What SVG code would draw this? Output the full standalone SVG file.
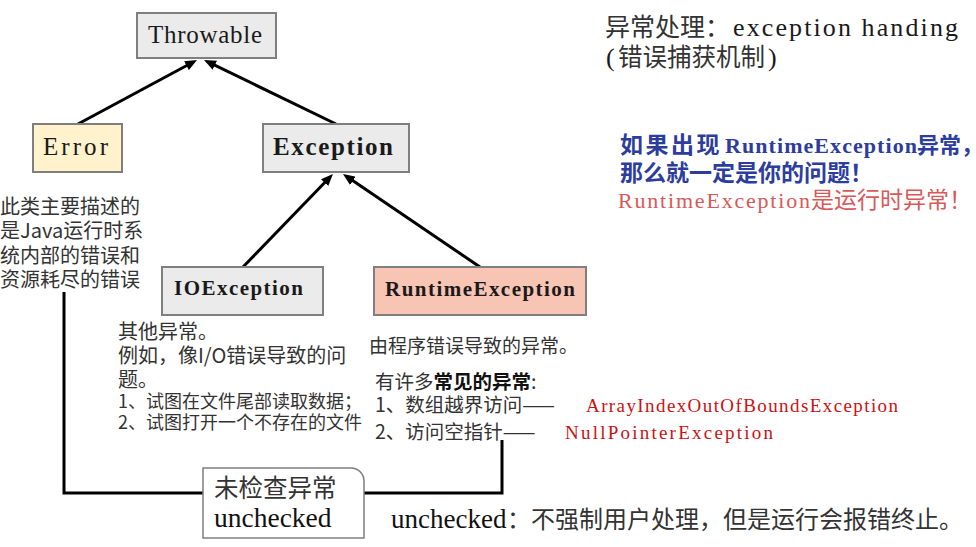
<svg xmlns="http://www.w3.org/2000/svg" width="976" height="547" viewBox="0 0 976 547">
<style>
.box{stroke:#7f7f7f;stroke-width:2}
.sm{font-family:"Liberation Serif","DejaVu Serif",serif;fill:#1a1a1a}
.cjk{font-family:"Noto Sans CJK SC","Noto Sans",sans-serif;fill:#333}
.ser{font-family:"Liberation Serif","Noto Sans CJK SC",serif;fill:#111}
.conn{stroke:#000;stroke-width:3;fill:none}
.blue{fill:#2d3d9e;font-weight:bold}
.red{fill:#d95858}
.dred{fill:#cc1111}
</style>
<defs>
<marker id="ah" viewBox="0 0 12 10" refX="3" refY="5" markerWidth="12" markerHeight="10" markerUnits="userSpaceOnUse" orient="auto">
<path d="M0,0 L12,5 L0,10 z" fill="#000"/>
</marker>
</defs>
<rect width="976" height="547" fill="#fff"/>

<g id="connectors">
<line class="conn" x1="78" y1="124" x2="189.1" y2="64.3" marker-end="url(#ah)"/>
<line class="conn" x1="336" y1="124" x2="212.1" y2="63.9" marker-end="url(#ah)"/>
<line class="conn" x1="243" y1="267" x2="326.7" y2="180.5" marker-end="url(#ah)"/>
<line class="conn" x1="480" y1="267" x2="350.4" y2="179.1" marker-end="url(#ah)"/>
<polyline class="conn" points="64,292 64,493 203,493"/>
<polyline class="conn" points="364,493 502,493 502,440"/>
</g>

<g id="throwable">
<rect class="box" x="137" y="13" width="139" height="45" fill="#ebebeb"/>
<text class="sm" x="148" y="43" font-size="25" textLength="114" lengthAdjust="spacing">Throwable</text>
</g>

<g id="error">
<rect class="box" x="33" y="124" width="89" height="48" fill="#fff2cc"/>
<text class="sm" x="43" y="155" font-size="25" textLength="65" lengthAdjust="spacing">Error</text>
</g>

<g id="exception">
<rect class="box" x="263" y="124" width="146" height="48" fill="#ebebeb"/>
<text class="sm" x="273" y="155" font-size="25" font-weight="bold" textLength="120" lengthAdjust="spacing">Exception</text>
</g>

<g id="ioexception">
<rect class="box" x="162" y="267" width="161" height="48" fill="#ebebeb"/>
<text class="sm" x="174" y="295" font-size="21" font-weight="bold" textLength="129" lengthAdjust="spacing">IOException</text>
</g>

<g id="runtimeexception">
<rect class="box" x="374" y="267" width="212" height="48" fill="#f8c4b4"/>
<text class="sm" x="385" y="296" font-size="21" font-weight="bold" textLength="190" lengthAdjust="spacing">RuntimeException</text>
</g>

<g id="unchecked">
<path d="M203,468 H351 A13,13 0 0 1 364,481 V538 H203 Z" fill="#fff" stroke="#7f7f7f" stroke-width="1.5"/>
<text class="cjk" x="214" y="497" font-size="24.5" fill="#223322">未检查异常</text>
<text class="ser" x="214" y="527" font-size="27.5">unchecked</text>
</g>

<g id="error-desc" class="cjk" font-size="20">
<text x="0" y="214">此类主要描述的</text>
<text x="0" y="238">是Java运行时系</text>
<text x="0" y="263">统内部的错误和</text>
<text x="0" y="287">资源耗尽的错误</text>
</g>

<g id="io-desc" class="cjk">
<text x="118" y="339" font-size="20">其他异常。</text>
<text x="118" y="363" font-size="20">例如，像I/O错误导致的问</text>
<text x="118" y="387" font-size="20">题。</text>
<text x="118" y="408" font-size="18">1、试图在文件尾部读取数据；</text>
<text x="118" y="429" font-size="18">2、试图打开一个不存在的文件</text>
</g>

<g id="runtime-desc">
<text class="cjk" x="369" y="353" font-size="19">由程序错误导致的异常。</text>
<text class="cjk" x="375" y="389" font-size="19.5">有许多<tspan font-weight="bold" fill="#111">常见的异常</tspan>:</text>
<text class="cjk" x="375" y="412" font-size="19.5" fill="#222">1、数组越界访问——</text>
<text class="sm dred" x="586" y="412" font-size="19" textLength="312" lengthAdjust="spacing">ArrayIndexOutOfBoundsException</text>
<text class="cjk" x="375" y="439" font-size="19.5" fill="#222">2、访问空指针——</text>
<text class="sm dred" x="565" y="439" font-size="19" textLength="208" lengthAdjust="spacing">NullPointerException</text>
</g>

<g id="title">
<text class="cjk" x="605" y="36" font-size="25" fill="#222">异常处理：</text>
<text class="sm" x="733" y="36" font-size="26" textLength="225" lengthAdjust="spacing">exception handing</text>
<text class="sm" x="606" y="66" font-size="26" fill="#333">(</text>
<text class="cjk" x="618" y="66" font-size="24.5">错误捕获机制</text>
<text class="sm" x="768" y="66" font-size="26" fill="#333">)</text>
</g>

<g id="note">
<text class="cjk blue" x="620" y="153" font-size="23" letter-spacing="2.5">如果出现</text>
<text class="sm blue" x="725" y="153" font-size="22" textLength="192" lengthAdjust="spacing">RuntimeException</text>
<text class="cjk blue" x="917" y="153" font-size="22">异常，</text>
<text class="cjk blue" x="620" y="181" font-size="23">那么就一定是你的问题！</text>
<text class="sm red" x="618" y="208" font-size="22" textLength="192" lengthAdjust="spacing">RuntimeException</text>
<text class="cjk red" x="811" y="208" font-size="23">是运行时异常！</text>
</g>

<g id="footer">
<text class="ser" x="391" y="528" font-size="27">unchecked</text>
<text class="cjk" x="507" y="528" font-size="24" fill="#555">：不强制用户处理，但是运行会报错终止。</text>
</g>
</svg>
